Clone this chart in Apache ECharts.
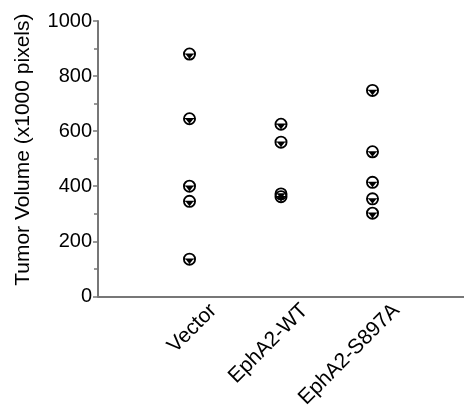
<!DOCTYPE html>
<html>
<head>
<meta charset="utf-8">
<script src="https://cdn.jsdelivr.net/npm/echarts@6/dist/echarts.min.js"></script>
<style>html,body{margin:0;padding:0;background:#fff}#c{width:464px;height:411px}</style>
</head>
<body>
<div id="c"></div>
<script>
const categories = ['Vector', 'EphA2-WT', 'EphA2-S897A'];
const vectorValues = [880, 645, 400, 345, 135];
const wtValues = [625, 560, 372, 362];
const s897aValues = [748, 525, 414, 354, 302];
const yTicks = [0, 200, 400, 600, 800, 1000];
const yTitle = 'Tumor Volume (x1000 pixels)';

const groups = [vectorValues, wtValues, s897aValues];
const points = [];
groups.forEach((vals, i) => vals.forEach(v => points.push([i + 1, v])));

const labelShift = 0.26;
const marker = 'path://M50,0 A50,50 0 1,1 50,100 A50,50 0 1,1 50,0 Z ' +
  'M50,14 A36,36 0 1,0 50,86 A36,36 0 1,0 50,14 Z ' +
  'M12,45 L88,45 L88,53 L12,53 Z ' +
  'M22,53 L78,53 L50,88 Z';

const chart = echarts.init(document.getElementById('c'));
chart.setOption({
  animation: false,
  grid: { left: 98, right: 0, top: 21, bottom: 113 },
  xAxis: {
    type: 'value', min: 0, max: 4,
    splitLine: { show: false },
    axisLine: { show: true, lineStyle: { color: '#777', width: 2 } },
    axisTick: { show: false },
    axisLabel: {
      customValues: categories.map((c, i) => i + 1 + labelShift),
      formatter: v => categories[Math.round(v - labelShift) - 1] || '',
      rotate: 45, margin: 11,
      color: '#000', fontSize: 21, fontFamily: 'Liberation Sans, Arial'
    }
  },
  yAxis: {
    type: 'value', min: 0, max: 1000, interval: 200,
    splitLine: { show: false },
    axisLine: { show: true, lineStyle: { color: '#777', width: 2 } },
    axisTick: { show: true, length: 5, lineStyle: { color: '#777', width: 1.5 } },
    minorTick: { show: true, splitNumber: 2, length: 4, lineStyle: { color: '#777', width: 1.5 } },
    axisLabel: {
      formatter: v => yTicks.includes(v) ? String(v) : '',
      color: '#000', fontSize: 20, margin: 6, fontFamily: 'Liberation Sans, Arial'
    },
    name: yTitle, nameLocation: 'middle', nameGap: 64,
    nameTextStyle: { color: '#000', fontSize: 21, fontFamily: 'Liberation Sans, Arial', padding: [0, 0, 0, 18] }
  },
  series: [{
    type: 'scatter',
    data: points,
    symbol: marker,
    symbolSize: 13,
    itemStyle: { color: '#000', opacity: 1 }
  }]
});
</script>
</body>
</html>
